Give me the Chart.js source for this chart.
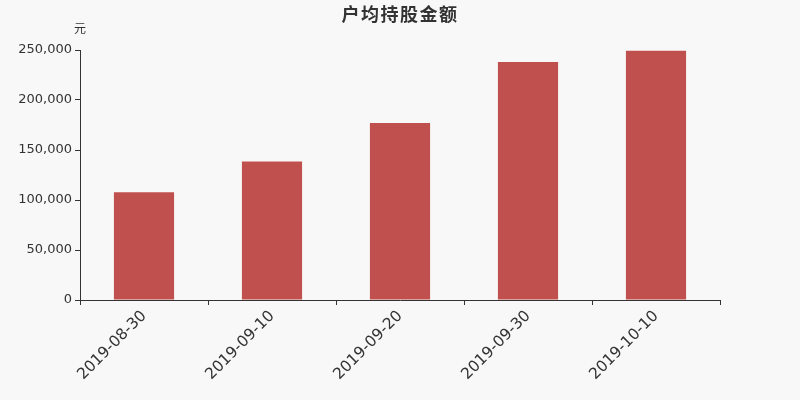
<!DOCTYPE html>
<html>
<head>
<meta charset="utf-8">
<script src="https://cdn.jsdelivr.net/npm/chart.js@4"></script>
<style>
  html, body { margin: 0; padding: 0; background: #f8f8f8; }
  #wrap { width: 800px; height: 400px; }
</style>
</head>
<body>
<div id="wrap"><canvas id="chart" width="800" height="400"></canvas></div>
<script>
const dates = ['2019-08-30', '2019-09-10', '2019-09-20', '2019-09-30', '2019-10-10'];
const avgHolding = [107800, 138600, 177100, 238000, 249300];
const yTicks = [0, 50000, 100000, 150000, 200000, 250000];

const fontFamily = '"DejaVu Sans", "Noto Sans CJK SC", sans-serif';

// title and unit label drawn on the canvas
const headerText = {
    id: 'headerText',
    afterDraw(chart) {
        const ctx = chart.ctx;
        ctx.save();
        ctx.fillStyle = '#333';
        ctx.textAlign = 'center';
        ctx.textBaseline = 'middle';
        ctx.font = 'bold 18px "Noto Sans CJK SC", sans-serif';
        ctx.letterSpacing = '1.5px';
        ctx.fillText('户均持股金额', 400, 14);
        ctx.letterSpacing = '0px';
        ctx.font = '12px "Noto Sans CJK SC", sans-serif';
        ctx.fillText('元', chart.chartArea.left, 28);
        ctx.restore();
    }
};

new Chart(document.getElementById('chart'), {
    type: 'bar',
    data: {
        labels: dates,
        datasets: [{
            label: '户均持股金额',
            data: avgHolding,
            backgroundColor: '#c0504d',
            barPercentage: 0.94,
            categoryPercentage: 0.5
        }]
    },
    options: {
        responsive: false,
        animation: false,
        layout: { padding: { top: 50, right: 80, left: 0, bottom: 0 } },
        plugins: { legend: { display: false }, title: { display: false }, tooltip: { enabled: false } },
        scales: {
            x: {
                afterFit(scale) { scale.height = 100; },
                border: { display: true, color: '#333', width: 1 },
                grid: { display: true, drawOnChartArea: false, drawTicks: true, tickLength: 5, color: '#333', offset: true },
                ticks: {
                    color: '#333',
                    font: { family: fontFamily, size: 15.5 },
                    minRotation: 45,
                    maxRotation: 45,
                    padding: 2
                }
            },
            y: {
                min: 0,
                max: 250000,
                afterFit(scale) { scale.width = 80; },
                afterBuildTicks(scale) { scale.ticks = yTicks.map(v => ({ value: v })); },
                border: { display: true, color: '#333', width: 1 },
                grid: { display: true, drawOnChartArea: false, drawTicks: true, tickLength: 5, color: '#333' },
                ticks: {
                    color: '#333',
                    font: { family: fontFamily, size: 13 },
                    padding: 3,
                    callback: v => v.toLocaleString('en-US')
                }
            }
        }
    },
    plugins: [headerText]
});
</script>
</body>
</html>
